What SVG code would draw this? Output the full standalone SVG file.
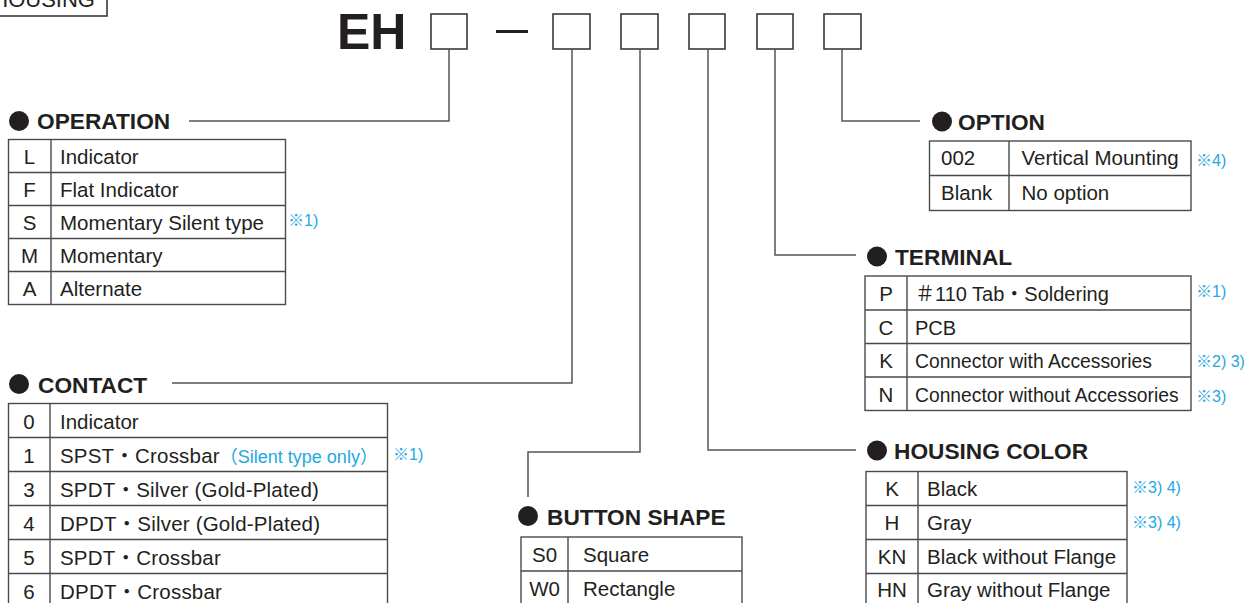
<svg xmlns="http://www.w3.org/2000/svg" width="1254" height="603" viewBox="0 0 1254 603">
<style>
text { font-family: "Liberation Sans", "Noto Sans CJK JP", sans-serif; fill: #231f20; }
.h { font-weight: bold; font-size: 22.7px; }
.b { font-size: 20.5px; }
.s { font-size: 19.3px; }
.c { text-anchor: middle; }
.ls { letter-spacing: 0.2px; }
.n { font-size: 16px; fill: #22a8e2; }
.bl { fill: #22a8e2; }
.tb { fill: none; stroke: #4a4a4a; stroke-width: 1.4; }
.cn { fill: none; stroke: #555; stroke-width: 1.5; }
.bx { fill: #fff; stroke: #3a3a3a; stroke-width: 1.6; }
.dot { fill: #231f20; }
</style>
<rect x="0" y="0" width="1254" height="603" fill="#fff"/>

<g id="housing-label">
  <rect class="bx" x="-20" y="-20" width="127" height="36"/>
  <text x="95" y="7" style="font-size:22px;text-anchor:end">HOUSING</text>
</g>

<g id="code">
  <text x="337" y="49" style="font-weight:bold;font-size:50px">EH</text>
  <rect class="bx" x="431" y="14" width="36" height="35"/>
  <rect x="496" y="30" width="32" height="3" fill="#231f20"/>
  <rect class="bx" x="553" y="14" width="37" height="35"/>
  <rect class="bx" x="621" y="14" width="37" height="35"/>
  <rect class="bx" x="689" y="14" width="36" height="35"/>
  <rect class="bx" x="757" y="14" width="36" height="35"/>
  <rect class="bx" x="824" y="14" width="37" height="35"/>
</g>

<g id="connectors">
  <path class="cn" d="M449,49 V121 H189"/>
  <path class="cn" d="M572,49 V383 H172"/>
  <path class="cn" d="M640,49 V452 H528 V497"/>
  <path class="cn" d="M708,49 V450 H856"/>
  <path class="cn" d="M775,49 V255 H856"/>
  <path class="cn" d="M842,49 V121 H920"/>
</g>

<g id="operation">
  <circle class="dot" cx="19" cy="121" r="10"/>
  <text class="h" x="37" y="129">OPERATION</text>
  <rect class="tb" x="8.5" y="139.5" width="277" height="165"/>
  <path class="tb" d="M51,139.5 V304.5 M8.5,172.5 H285.5 M8.5,205.5 H285.5 M8.5,238.5 H285.5 M8.5,271.5 H285.5"/>
  <text class="b c" x="29.5" y="163.5">L</text>
  <text class="b c" x="29.5" y="196.5">F</text>
  <text class="b c" x="29.5" y="229.5">S</text>
  <text class="b c" x="29.5" y="262.5">M</text>
  <text class="b c" x="29.5" y="295.5">A</text>
  <text class="b" x="60" y="163.5">Indicator</text>
  <text class="b" x="60" y="196.5">Flat Indicator</text>
  <text class="b" x="60" y="229.5">Momentary Silent type</text>
  <text class="b" x="60" y="262.5">Momentary</text>
  <text class="b" x="60" y="295.5">Alternate</text>
  <text class="n" x="288" y="226">※1)</text>
</g>

<g id="contact">
  <circle class="dot" cx="19" cy="384" r="10"/>
  <text class="h" x="38" y="393">CONTACT</text>
  <rect class="tb" x="8.5" y="403.5" width="379" height="210"/>
  <path class="tb" d="M50,403.5 V613 M8.5,437.5 H387.5 M8.5,471.5 H387.5 M8.5,505.5 H387.5 M8.5,539.5 H387.5 M8.5,573.5 H387.5"/>
  <text class="b c" x="29" y="428.5">0</text>
  <text class="b c" x="29" y="462.5">1</text>
  <text class="b c" x="29" y="496.5">3</text>
  <text class="b c" x="29" y="530.5">4</text>
  <text class="b c" x="29" y="564.5">5</text>
  <text class="b c" x="29" y="598.5">6</text>
  <text class="b" x="60" y="428.5">Indicator</text>
  <text class="b ls" x="60" y="462.5">SPST・Crossbar<tspan class="bl" style="font-size:18px;letter-spacing:0">（Silent type only）</tspan></text>
  <text class="b ls" x="60" y="496.5">SPDT・Silver (Gold-Plated)</text>
  <text class="b ls" x="60" y="530.5">DPDT・Silver (Gold-Plated)</text>
  <text class="b ls" x="60" y="564.5">SPDT・Crossbar</text>
  <text class="b ls" x="60" y="598.5">DPDT・Crossbar</text>
  <text class="n" x="393" y="460">※1)</text>
</g>

<g id="button-shape">
  <circle class="dot" cx="528" cy="516" r="10"/>
  <text class="h" x="547" y="525">BUTTON SHAPE</text>
  <rect class="tb" x="521" y="537" width="221" height="80"/>
  <path class="tb" d="M568,537 V617 M521,571 H742"/>
  <text class="b c" x="544.5" y="562">S0</text>
  <text class="b c" x="544.5" y="596">W0</text>
  <text class="b" x="583" y="562">Square</text>
  <text class="b" x="583" y="596">Rectangle</text>
</g>

<g id="housing-color">
  <circle class="dot" cx="877" cy="450.5" r="10"/>
  <text class="h" x="894" y="458.5">HOUSING COLOR</text>
  <rect class="tb" x="866" y="471.5" width="261" height="145"/>
  <path class="tb" d="M918,471.5 V617 M866,505.5 H1127 M866,539.5 H1127 M866,573.5 H1127"/>
  <text class="b c" x="892" y="496">K</text>
  <text class="b c" x="892" y="530">H</text>
  <text class="b c" x="892" y="564">KN</text>
  <text class="b c" x="892" y="597">HN</text>
  <text class="b" x="927" y="496">Black</text>
  <text class="b" x="927" y="530">Gray</text>
  <text class="b" x="927" y="564">Black without Flange</text>
  <text class="b" x="927" y="597">Gray without Flange</text>
  <text class="n" x="1132" y="493">※3) 4)</text>
  <text class="n" x="1132" y="527.5">※3) 4)</text>
</g>

<g id="terminal">
  <circle class="dot" cx="877" cy="256.5" r="10"/>
  <text class="h" x="895" y="264.5">TERMINAL</text>
  <rect class="tb" x="865" y="276" width="326" height="134.5"/>
  <path class="tb" d="M907,276 V410.5 M865,310 H1191 M865,343.5 H1191 M865,377 H1191"/>
  <text class="b c" x="886" y="301">P</text>
  <text class="b c" x="886" y="334.5">C</text>
  <text class="b c" x="886" y="368">K</text>
  <text class="b c" x="886" y="401.5">N</text>
  <text class="b" x="915" y="301" style="font-size:20px">＃110 Tab・Soldering</text>
  <text class="b" x="915" y="334.5" style="font-size:20px">PCB</text>
  <text class="s" x="915" y="368">Connector with Accessories</text>
  <text class="s" x="915" y="401.5">Connector without Accessories</text>
  <text class="n" x="1196" y="296.5">※1)</text>
  <text class="n" x="1196" y="366.5">※2) 3)</text>
  <text class="n" x="1196" y="401.5">※3)</text>
</g>

<g id="option">
  <circle class="dot" cx="942" cy="121.5" r="10"/>
  <text class="h" x="958" y="129.5">OPTION</text>
  <rect class="tb" x="929.5" y="141" width="261.5" height="69.5"/>
  <path class="tb" d="M1009,141 V210.5 M929.5,175.5 H1191"/>
  <text class="b" x="941" y="165">002</text>
  <text class="b" x="941" y="200">Blank</text>
  <text class="b" x="1021.5" y="165">Vertical Mounting</text>
  <text class="b" x="1021.5" y="200">No option</text>
  <text class="n" x="1196" y="165.5">※4)</text>
</g>
</svg>
